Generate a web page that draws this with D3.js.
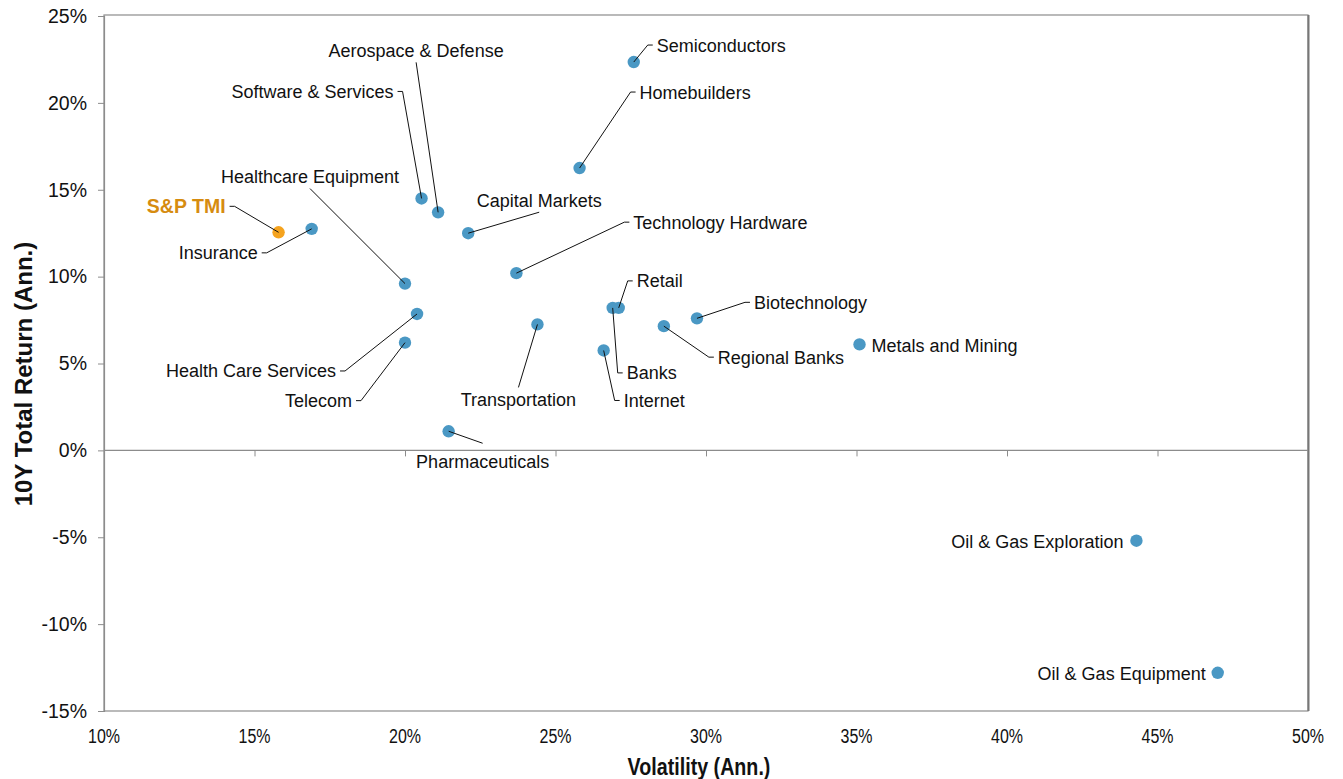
<!DOCTYPE html>
<html>
<head>
<meta charset="utf-8">
<script src="https://cdn.jsdelivr.net/npm/d3@7"></script>
<style>
  body { margin: 0; background: #fff; }
  svg { display: block; font-family: "Liberation Sans", Arial, sans-serif; }
</style>
</head>
<body>
<svg id="chart" width="1343" height="779"></svg>
<script>
// sector data (values in %)
var sectors = ["S&P TMI", "Insurance", "Healthcare Equipment", "Software & Services",
  "Aerospace & Defense", "Capital Markets", "Homebuilders", "Semiconductors",
  "Technology Hardware", "Retail", "Banks", "Internet", "Regional Banks",
  "Biotechnology", "Metals and Mining", "Health Care Services", "Telecom",
  "Transportation", "Pharmaceuticals", "Oil & Gas Exploration", "Oil & Gas Equipment"];
var volatility = [15.8, 16.9, 20.0, 20.55, 21.1, 22.1, 25.8, 27.6,
  23.7, 27.1, 26.9, 26.6, 28.6,
  29.7, 35.1, 20.4, 20.0,
  24.4, 21.45, 44.3, 47.0];
var totalReturn = [12.55, 12.75, 9.6, 14.5, 13.7, 12.5, 16.25, 22.35,
  10.2, 8.2, 8.2, 5.75, 7.15,
  7.6, 6.1, 7.85, 6.2,
  7.25, 1.1, -5.2, -12.8];
var benchmark = "S&P TMI";

var xTicks = [10, 15, 20, 25, 30, 35, 40, 45, 50];
var yTicks = [-15, -10, -5, 0, 5, 10, 15, 20, 25];

// label placement (pixel offsets from the dot) and leader style
var labelLayout = {
  "Semiconductors":        { dx: 23,  dy: -17,  anchor: "start",  leader: "left" },
  "Homebuilders":          { dx: 60,  dy: -76,  anchor: "start",  leader: "left" },
  "Technology Hardware":   { dx: 117, dy: -51,  anchor: "start",  leader: "left" },
  "Capital Markets":       { dx: 71,  dy: -33,  anchor: "middle", leader: "bottom" },
  "Aerospace & Defense":   { dx: -22, dy: -162, anchor: "middle", leader: "bottom" },
  "Software & Services":   { dx: -28, dy: -107, anchor: "end",    leader: "right" },
  "Healthcare Equipment":  { dx: -95, dy: -107, anchor: "middle", leader: "bottom" },
  "S&P TMI":               { dx: -53, dy: -26,  anchor: "end",    leader: "right" },
  "Insurance":             { dx: -54, dy: 24,   anchor: "end",    leader: "right" },
  "Health Care Services":  { dx: -81, dy: 57,   anchor: "end",    leader: "right" },
  "Telecom":               { dx: -53, dy: 58,   anchor: "end",    leader: "right" },
  "Transportation":        { dx: -19, dy: 75,   anchor: "middle", leader: "top" },
  "Pharmaceuticals":       { dx: 34,  dy: 30,   anchor: "middle", leader: "top", gap: 18 },
  "Retail":                { dx: 18,  dy: -27,  anchor: "start",  leader: "left" },
  "Banks":                 { dx: 14,  dy: 65,   anchor: "start",  leader: "left" },
  "Internet":              { dx: 20,  dy: 50,   anchor: "start",  leader: "left" },
  "Regional Banks":        { dx: 54,  dy: 31,   anchor: "start",  leader: "left" },
  "Biotechnology":         { dx: 57,  dy: -16,  anchor: "start",  leader: "left" },
  "Metals and Mining":     { dx: 12,  dy: 1,    anchor: "start",  leader: "none" },
  "Oil & Gas Exploration": { dx: -13, dy: 1,    anchor: "end",    leader: "none" },
  "Oil & Gas Equipment":   { dx: -12, dy: 1,    anchor: "end",    leader: "none" }
};

var svg = d3.select("#chart");
var plotLeft = 104, plotRight = 1308, plotTop = 16, plotBottom = 711;
var frameColor = "#8c8c8c";
var blue = "#4a98c4", orange = "#f5a31e", orangeText = "#d68c10";

var x = d3.scaleLinear().domain([10, 50]).range([plotLeft, plotRight]);
var y = d3.scaleLinear().domain([-15, 25]).range([plotBottom, plotTop]);

var data = sectors.map(function(s, i) {
  return { name: s, vol: volatility[i], ret: totalReturn[i] };
});

// plot frame
svg.append("rect")
  .attr("x", plotLeft).attr("y", plotTop - 1)
  .attr("width", plotRight - plotLeft).attr("height", plotBottom - plotTop + 1)
  .attr("fill", "none").attr("stroke", frameColor).attr("stroke-width", 1.2);
svg.append("line")
  .attr("x1", plotRight + 0.5).attr("x2", plotRight + 0.5)
  .attr("y1", plotTop - 1).attr("y2", plotBottom)
  .attr("stroke", "#777").attr("stroke-width", 2);

// y axis on the left edge
var yAxis = svg.append("g")
  .attr("transform", "translate(" + plotLeft + ",0)")
  .call(d3.axisLeft(y).tickValues(yTicks).tickSize(6).tickPadding(11)
    .tickFormat(function(d) { return d + "%"; }));
yAxis.select(".domain").attr("stroke", frameColor).attr("stroke-width", 1.2);
yAxis.selectAll(".tick line").attr("stroke", frameColor);
yAxis.selectAll(".tick text")
  .attr("fill", "#111")
  .style("font-size", "19.5px")
  .style("font-family", "Liberation Sans, Arial, sans-serif");

// horizontal zero line with ticks pointing down
var xAxis = svg.append("g")
  .attr("transform", "translate(0," + y(0) + ")")
  .call(d3.axisBottom(x).tickValues(xTicks.slice(1, -1)).tickSize(6).tickFormat(""));
xAxis.select(".domain").attr("stroke", frameColor).attr("stroke-width", 1.2)
  .attr("d", "M" + plotLeft + ",0H" + plotRight);
xAxis.selectAll(".tick line").attr("stroke", frameColor);

// x tick labels below the plot, narrow face
svg.append("g").selectAll("text")
  .data(xTicks)
  .enter().append("text")
  .attr("transform", function(d) { return "translate(" + x(d) + ",743) scale(0.82,1)"; })
  .attr("text-anchor", "middle")
  .attr("fill", "#111")
  .style("font-size", "19.5px")
  .text(function(d) { return d + "%"; });

// axis titles
svg.append("text")
  .attr("transform", "translate(699,775) scale(0.82,1)")
  .attr("text-anchor", "middle")
  .style("font-size", "24px").style("font-weight", "bold")
  .attr("fill", "#111")
  .text("Volatility (Ann.)");
svg.append("text")
  .attr("transform", "translate(32,374) rotate(-90)")
  .attr("text-anchor", "middle")
  .style("font-size", "24px").style("font-weight", "bold")
  .attr("fill", "#111")
  .text("10Y Total Return (Ann.)");

// dots
svg.append("g").selectAll("circle")
  .data(data)
  .enter().append("circle")
  .attr("cx", function(d) { return x(d.vol); })
  .attr("cy", function(d) { return y(d.ret); })
  .attr("r", 6.2)
  .attr("fill", function(d) { return d.name === benchmark ? orange : blue; });

// leader lines drawn over the dots
function leaderPath(d) {
  var L = labelLayout[d.name];
  var px = x(d.vol), py = y(d.ret);
  var tx = px + L.dx, ty = py + L.dy;
  var gap = L.gap || 12;
  if (L.leader === "left") {
    return "M" + px + "," + py + "L" + (tx - 9) + "," + ty + "H" + (tx - 4);
  } else if (L.leader === "right") {
    return "M" + px + "," + py + "L" + (tx + 9) + "," + ty + "H" + (tx + 4);
  } else if (L.leader === "bottom") {
    return "M" + px + "," + py + "L" + tx + "," + (ty + gap);
  } else if (L.leader === "top") {
    return "M" + px + "," + py + "L" + tx + "," + (ty - gap);
  }
  return null;
}

svg.append("g").selectAll("path")
  .data(data.filter(function(d) { return labelLayout[d.name].leader !== "none"; }))
  .enter().append("path")
  .attr("d", leaderPath)
  .attr("fill", "none")
  .attr("stroke", "#111")
  .attr("stroke-width", 1);

// labels
svg.append("g").selectAll("text")
  .data(data)
  .enter().append("text")
  .attr("x", function(d) { return x(d.vol) + labelLayout[d.name].dx; })
  .attr("y", function(d) { return y(d.ret) + labelLayout[d.name].dy; })
  .attr("dy", "0.36em")
  .attr("text-anchor", function(d) { return labelLayout[d.name].anchor; })
  .attr("fill", function(d) { return d.name === benchmark ? orangeText : "#111"; })
  .style("font-size", function(d) { return d.name === benchmark ? "19.5px" : "18px"; })
  .style("font-weight", function(d) { return d.name === benchmark ? "bold" : "normal"; })
  .text(function(d) { return d.name; });
</script>
</body>
</html>
